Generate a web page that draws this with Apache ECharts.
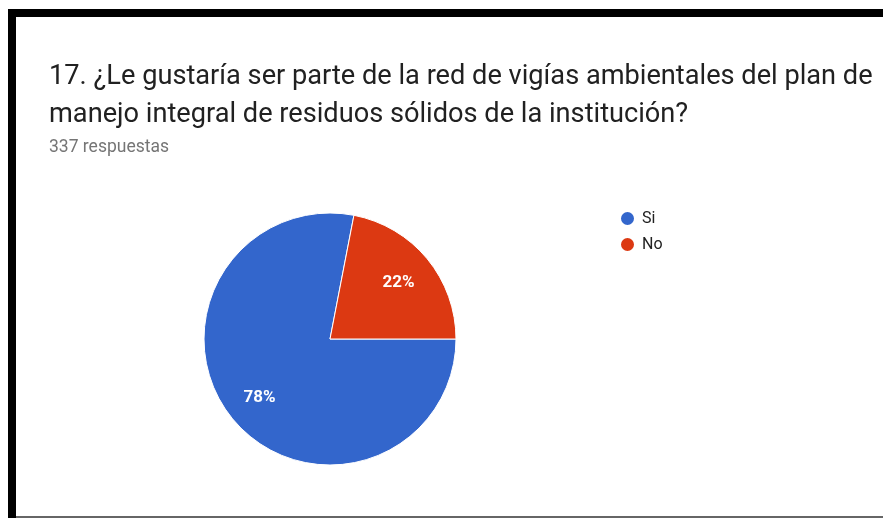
<!DOCTYPE html>
<html>
<head>
<meta charset="utf-8">
<script src="https://cdn.jsdelivr.net/npm/echarts@6/dist/echarts.min.js"></script>
<style>
  html, body { margin: 0; padding: 0; background: #fff; }
  #main { position: absolute; left: 0; top: 0; width: 883px; height: 518px; }
  /* screenshot frame */
  #frameTop { position: absolute; left: 8px; top: 9px; width: 875px; height: 8px; background: #000; }
  #frameLeft { position: absolute; left: 8px; top: 9px; width: 8px; height: 509px; background: #000; }
  #frameBottom { position: absolute; left: 16px; top: 516px; width: 867px; height: 2px; background: #666; }
</style>
</head>
<body>
<div id="main"></div>
<div id="frameTop"></div>
<div id="frameLeft"></div>
<div id="frameBottom"></div>
<script>
"use strict";
let titleText = '17. ¿Le gustaría ser parte de la red de vigías ambientales del plan de\nmanejo integral de residuos sólidos de la institución?';
let subtitleText = '337 respuestas';
let answers = ['Si', 'No'];
let counts = [263, 74];
let sliceColors = ['#3366cc', '#dc3912'];

let pieData = answers.map(function (name, i) {
    return { name: name, value: counts[i], itemStyle: { color: sliceColors[i] } };
});

let myChart = echarts.init(document.getElementById('main'));
let option = {
    animation: false,
    title: {
        text: titleText,
        subtext: subtitleText,
        left: 44,
        top: 53,
        itemGap: 5,
        textStyle: {
            fontFamily: 'Roboto',
            fontSize: 27.2,
            fontWeight: 'normal',
            color: '#212121',
            lineHeight: 38
        },
        subtextStyle: {
            fontFamily: 'Roboto',
            fontSize: 17.5,
            color: '#757575'
        }
    },
    legend: {
        orient: 'vertical',
        left: 614,
        top: 205,
        icon: 'circle',
        itemWidth: 15,
        itemHeight: 15,
        itemGap: 9,
        data: answers,
        textStyle: {
            fontFamily: 'Roboto',
            fontSize: 16,
            color: '#222',
            padding: [0, 0, 0, 2]
        }
    },
    series: [
        {
            type: 'pie',
            center: [330, 339],
            radius: 126,
            startAngle: 0,
            clockwise: true,
            label: { show: false },
            labelLine: { show: false },
            itemStyle: { borderColor: '#fff', borderWidth: 1 },
            emphasis: { disabled: true },
            data: pieData
        },
        {
            // transparent ring, only to place the percent labels at ~0.7 radius
            type: 'pie',
            center: [329, 340],
            radius: [48, 126],
            startAngle: 0,
            clockwise: true,
            silent: true,
            itemStyle: { color: 'transparent' },
            label: {
                show: true,
                position: 'inside',
                formatter: function (p) { return Math.round(p.percent) + '%'; },
                fontFamily: 'Roboto',
                fontSize: 17,
                fontWeight: 'bold',
                color: '#fff'
            },
            labelLine: { show: false },
            emphasis: { disabled: true },
            data: answers.map(function (name, i) { return { name: name, value: counts[i] }; })
        }
    ]
};
myChart.setOption(option);
</script>
</body>
</html>
